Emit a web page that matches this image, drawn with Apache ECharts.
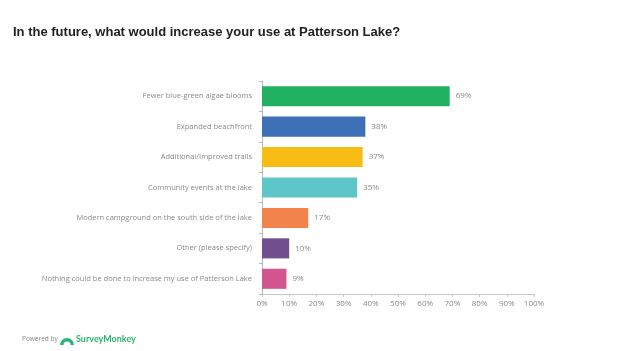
<!DOCTYPE html>
<html>
<head>
<meta charset="utf-8">
<script src="https://cdn.jsdelivr.net/npm/echarts@6/dist/echarts.min.js"></script>
<style>
  html, body { margin: 0; padding: 0; background: #fff; }
  #chart { width: 626px; height: 351px; }
</style>
</head>
<body>
<div id="chart"></div>
<script>
  // answers, top to bottom as in the survey
  var categories = [
    'Fewer blue-green algae blooms',
    'Expanded beachfront',
    'Additional/Improved trails',
    'Community events at the lake',
    'Modern campground on the south side of the lake',
    'Other (please specify)',
    'Nothing could be done to increase my use of Patterson Lake'
  ];
  var percents = [69, 38, 37, 35, 17, 10, 9];
  var barColors = ['#21b261', '#3d6fb6', '#f7bd14', '#5ec5c8', '#f2834b', '#714f8d', '#d4568f'];
  var tickValues = [0, 10, 20, 30, 40, 50, 60, 70, 80, 90, 100];

  var chart = echarts.init(document.getElementById('chart'));

  // echarts draws category axes bottom-up, so reverse
  var cats = categories.slice().reverse();
  var data = percents.map(function (v, i) {
    return { value: v, itemStyle: { color: barColors[i] } };
  }).reverse();

  chart.setOption({
    animation: false,
    title: {
      text: 'In the future, what would increase your use at Patterson Lake?',
      left: 8,
      top: 21,
      textStyle: {
        fontFamily: 'Liberation Sans, Arial, sans-serif',
        fontSize: 13,
        fontWeight: 'bold',
        color: '#222'
      }
    },
    grid: { left: 262, right: 92, top: 81, bottom: 57 },
    xAxis: {
      type: 'value',
      min: tickValues[0],
      max: tickValues[tickValues.length - 1],
      interval: 10,
      axisLine: { show: true, lineStyle: { color: '#c8c8c8' } },
      axisTick: { show: true, length: 3, lineStyle: { color: '#c8c8c8' } },
      splitLine: { show: false },
      axisLabel: {
        formatter: '{value}%',
        color: '#8a8a8a',
        fontSize: 8,
        margin: 6,
        fontFamily: 'Open Sans, sans-serif'
      }
    },
    yAxis: {
      type: 'category',
      data: cats,
      axisLine: { show: true, lineStyle: { color: '#b8b8b8' } },
      axisTick: { show: true, length: 3, lineStyle: { color: '#b8b8b8' } },
      axisLabel: {
        color: '#8a8a8a',
        fontSize: 7.5,
        margin: 10,
        fontFamily: 'Open Sans, sans-serif'
      }
    },
    series: [{
      type: 'bar',
      data: data,
      barCategoryGap: '34%',
      label: {
        show: true,
        position: 'right',
        distance: 6,
        formatter: '{c}%',
        color: '#8a8a8a',
        fontSize: 8,
        fontFamily: 'Open Sans, sans-serif'
      }
    }],
    graphic: [
      {
        type: 'text',
        left: 22,
        top: 336,
        style: { text: 'Powered by', fill: '#8a8a8a', fontSize: 6.5, fontFamily: 'Open Sans, sans-serif' }
      },
      {
        // little dome-shaped logo mark
        type: 'sector',
        shape: { cx: 67, cy: 345, r: 7, r0: 3.5, startAngle: Math.PI, endAngle: Math.PI * 2 },
        style: { fill: '#2bb673' }
      },
      {
        type: 'text',
        left: 76,
        top: 335,
        style: { text: 'SurveyMonkey', fill: '#2bb673', fontSize: 9, fontWeight: 'bold', fontFamily: 'Lato, sans-serif' }
      }
    ]
  });
</script>
</body>
</html>
